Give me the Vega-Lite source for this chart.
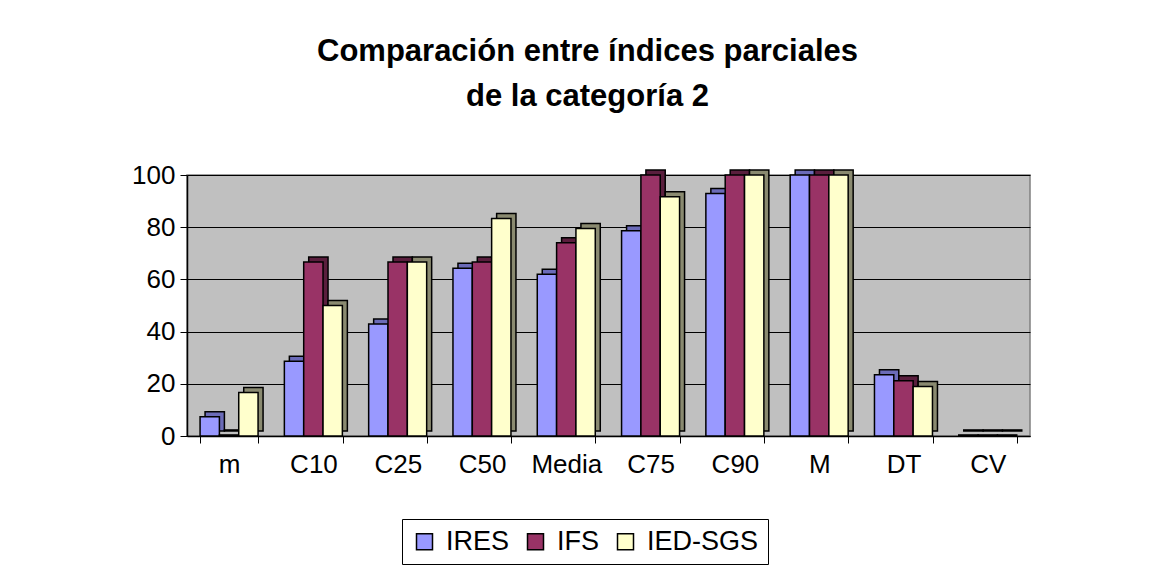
{
  "$schema": "https://vega.github.io/schema/vega-lite/v6.json",
  "width": 843,
  "height": 261,
  "autosize": {"type": "none"},
  "padding": {"left": 187, "top": 175, "right": 121, "bottom": 139},
  "background": "white",
  "title": {
    "text": ["Comparación entre índices parciales", "de la categoría 2"],
    "font": "Liberation Sans",
    "fontSize": 31,
    "fontWeight": "bold",
    "lineHeight": 45,
    "color": "black",
    "anchor": "middle",
    "dx": -21,
    "offset": 49
  },
  "data": {
    "values": [
      {"cat": "m", "serie": "IRES", "value": 7.4},
      {"cat": "m", "serie": "IFS", "value": 0.4},
      {"cat": "m", "serie": "IED-SGS", "value": 16.7},
      {"cat": "C10", "serie": "IRES", "value": 28.6},
      {"cat": "C10", "serie": "IFS", "value": 66.7},
      {"cat": "C10", "serie": "IED-SGS", "value": 50},
      {"cat": "C25", "serie": "IRES", "value": 42.9},
      {"cat": "C25", "serie": "IFS", "value": 66.7},
      {"cat": "C25", "serie": "IED-SGS", "value": 66.7},
      {"cat": "C50", "serie": "IRES", "value": 64.3},
      {"cat": "C50", "serie": "IFS", "value": 66.7},
      {"cat": "C50", "serie": "IED-SGS", "value": 83.3},
      {"cat": "Media", "serie": "IRES", "value": 62},
      {"cat": "Media", "serie": "IFS", "value": 74},
      {"cat": "Media", "serie": "IED-SGS", "value": 79.5},
      {"cat": "C75", "serie": "IRES", "value": 78.6},
      {"cat": "C75", "serie": "IFS", "value": 100},
      {"cat": "C75", "serie": "IED-SGS", "value": 91.7},
      {"cat": "C90", "serie": "IRES", "value": 92.9},
      {"cat": "C90", "serie": "IFS", "value": 100},
      {"cat": "C90", "serie": "IED-SGS", "value": 100},
      {"cat": "M", "serie": "IRES", "value": 100},
      {"cat": "M", "serie": "IFS", "value": 100},
      {"cat": "M", "serie": "IED-SGS", "value": 100},
      {"cat": "DT", "serie": "IRES", "value": 23.5},
      {"cat": "DT", "serie": "IFS", "value": 21.2},
      {"cat": "DT", "serie": "IED-SGS", "value": 19},
      {"cat": "CV", "serie": "IRES", "value": 0.4},
      {"cat": "CV", "serie": "IFS", "value": 0.4},
      {"cat": "CV", "serie": "IED-SGS", "value": 0.4}
    ]
  },
  "encoding": {
    "x": {
      "field": "cat",
      "type": "nominal",
      "sort": ["m", "C10", "C25", "C50", "Media", "C75", "C90", "M", "DT", "CV"],
      "scale": {"paddingInner": 0.31, "paddingOuter": 0.155},
      "axis": {
        "title": null,
        "labelAngle": 0,
        "labelFont": "Liberation Sans",
        "labelFontSize": 26,
        "labelColor": "black",
        "labelPadding": 8,
        "tickBand": "extent",
        "tickColor": "black",
        "tickSize": 7,
        "domainColor": "black",
        "domainWidth": 1.5,
        "grid": false
      }
    },
    "y": {
      "field": "value",
      "type": "quantitative",
      "scale": {"domain": [0, 100], "nice": false},
      "axis": {
        "title": null,
        "values": [0, 20, 40, 60, 80, 100],
        "labelFont": "Liberation Sans",
        "labelFontSize": 26,
        "labelColor": "black",
        "labelPadding": 5,
        "tickColor": "black",
        "tickSize": 7,
        "domainColor": "black",
        "domainWidth": 1.5,
        "grid": true,
        "gridColor": "black",
        "gridWidth": 1.2
      }
    }
  },
  "layer": [
    {
      "mark": {"type": "bar", "yOffset": -5, "stroke": "black", "strokeWidth": 1.5, "opacity": 1},
      "encoding": {
        "xOffset": {
          "field": "serie",
          "type": "nominal",
          "sort": ["IRES", "IFS", "IED-SGS"],
          "scale": {"range": [5, 63], "paddingInner": 0, "paddingOuter": 0}
        },
        "color": {
          "field": "serie",
          "type": "nominal",
          "scale": {"domain": ["IRES", "IFS", "IED-SGS"], "range": ["#6b6bb8", "#5a1e3d", "#8a8a70"]},
          "legend": null
        }
      }
    },
    {
      "mark": {"type": "bar", "stroke": "black", "strokeWidth": 1.5, "opacity": 1},
      "encoding": {
        "xOffset": {
          "field": "serie",
          "type": "nominal",
          "sort": ["IRES", "IFS", "IED-SGS"],
          "scale": {"range": [0, 58], "paddingInner": 0, "paddingOuter": 0}
        },
        "color": {
          "field": "serie",
          "type": "nominal",
          "scale": {"domain": ["IRES", "IFS", "IED-SGS"], "range": ["#9999ff", "#993366", "#ffffcc"]},
          "legend": {
            "title": null,
            "orient": "none",
            "direction": "horizontal",
            "legendX": 215,
            "legendY": 344,
            "labelFont": "Liberation Sans",
            "labelFontSize": 27,
            "labelColor": "black",
            "labelOffset": 8,
            "symbolType": "square",
            "symbolSize": 256,
            "symbolStrokeColor": "black",
            "symbolStrokeWidth": 1.5,
            "symbolOpacity": 1,
            "columnPadding": 12,
            "padding": 9,
            "strokeColor": "black",
            "fillColor": "white"
          }
        }
      }
    }
  ],
  "resolve": {"scale": {"color": "independent", "xOffset": "independent"}},
  "config": {
    "view": {"fill": "#c0c0c0", "stroke": "#808080", "strokeWidth": 1.5}
  }
}
